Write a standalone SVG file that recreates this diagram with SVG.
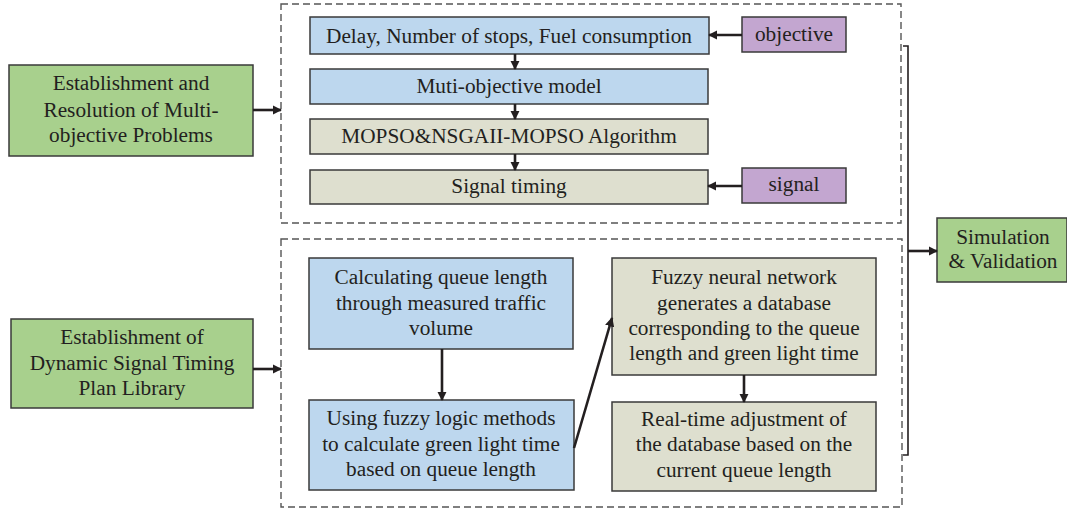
<svg xmlns="http://www.w3.org/2000/svg" width="1067" height="511" viewBox="0 0 1067 511">
<style>
text{font-family:"Liberation Serif","Times New Roman",serif;font-size:21.3px;fill:#231f20;text-anchor:middle}
.b{stroke:#3a3a3a;stroke-width:1.5}
.blue{fill:#bdd7ee}
.tan{fill:#dedfcf}
.pur{fill:#c3a6d0}
.grn{fill:#a8d08d}
.dash{fill:none;stroke:#555;stroke-width:1.4;stroke-dasharray:7 4}
.c{fill:none;stroke:#231f20;stroke-width:2.6}
</style>
<defs>
<marker id="ah" viewBox="0 0 10 10" refX="9" refY="5" markerWidth="3.6" markerHeight="3.6" orient="auto" markerUnits="strokeWidth">
<path d="M0,0 L10,5 L0,10 z" fill="#231f20"/>
</marker>
</defs>
<rect class="dash" x="281" y="4" width="620" height="219"/>
<rect class="dash" x="281" y="239" width="621" height="268"/>
<g id="n-left1"><rect class="b grn" x="9" y="65" width="244" height="91"/>
<text x="131" y="90">Establishment and</text><text x="131" y="117">Resolution of Multi-</text><text x="131" y="142">objective Problems</text></g>
<g id="n-left2"><rect class="b grn" x="11" y="319" width="242" height="89"/>
<text x="132" y="344">Establishment of</text><text x="132" y="370">Dynamic Signal Timing</text><text x="132" y="395">Plan Library</text></g>
<g id="n-delay"><rect class="b blue" x="310" y="17" width="399" height="37"/><text x="509" y="43">Delay, Number of stops, Fuel consumption</text></g>
<g id="n-model"><rect class="b blue" x="310" y="69" width="398" height="35"/><text x="509" y="93">Muti-objective model</text></g>
<g id="n-algo"><rect class="b tan" x="310" y="119" width="398" height="35"/><text x="509" y="143">MOPSO&amp;NSGAII-MOPSO Algorithm</text></g>
<g id="n-timing"><rect class="b tan" x="310" y="170" width="398" height="34"/><text x="509" y="193">Signal timing</text></g>
<g id="n-objective"><rect class="b pur" x="742" y="17" width="104" height="35"/><text x="794" y="41">objective</text></g>
<g id="n-signal"><rect class="b pur" x="742" y="168" width="104" height="35"/><text x="794" y="191">signal</text></g>
<g id="n-sim"><rect class="b grn" x="937" y="218" width="130" height="64"/><text x="1003" y="244">Simulation</text><text x="1003" y="268">&amp; Validation</text></g>
<g id="n-calc"><rect class="b blue" x="309" y="258" width="264" height="91"/>
<text x="441" y="284">Calculating queue length</text><text x="441" y="310">through measured traffic</text><text x="441" y="335">volume</text></g>
<g id="n-fuzzy"><rect class="b blue" x="309" y="400" width="265" height="90"/>
<text x="441" y="425">Using fuzzy logic methods</text><text x="441" y="451">to calculate green light time</text><text x="441" y="476">based on queue length</text></g>
<g id="n-fnn"><rect class="b tan" x="612" y="258" width="264" height="117"/>
<text x="744" y="284">Fuzzy neural network</text><text x="744" y="310">generates a database</text><text x="744" y="335">corresponding to the queue</text><text x="744" y="360">length and green light time</text></g>
<g id="n-rt"><rect class="b tan" x="612" y="402" width="264" height="89"/>
<text x="744" y="426">Real-time adjustment of</text><text x="744" y="451">the database based on the</text><text x="744" y="477">current queue length</text></g>
<g id="connectors">
<line class="c" x1="515" y1="54" x2="515" y2="69" marker-end="url(#ah)"/>
<line class="c" x1="515" y1="104" x2="515" y2="119" marker-end="url(#ah)"/>
<line class="c" x1="515" y1="154" x2="515" y2="170" marker-end="url(#ah)"/>
<line class="c" x1="742" y1="35" x2="709" y2="35" marker-end="url(#ah)"/>
<line class="c" x1="742" y1="186" x2="708" y2="186" marker-end="url(#ah)"/>
<line class="c" x1="253" y1="110" x2="281" y2="110" marker-end="url(#ah)"/>
<line class="c" x1="253" y1="369" x2="281" y2="369" marker-end="url(#ah)"/>
<line class="c" x1="442" y1="349" x2="442" y2="400" marker-end="url(#ah)"/>
<line class="c" x1="574" y1="448" x2="612" y2="318" marker-end="url(#ah)"/>
<line class="c" x1="744" y1="375" x2="744" y2="402" marker-end="url(#ah)"/>
<polyline points="903,46 908,46 908,455 903,455" fill="none" stroke="#231f20" stroke-width="1.6"/>
<line class="c" x1="908" y1="251" x2="937" y2="251" marker-end="url(#ah)"/>
</g>
</svg>
